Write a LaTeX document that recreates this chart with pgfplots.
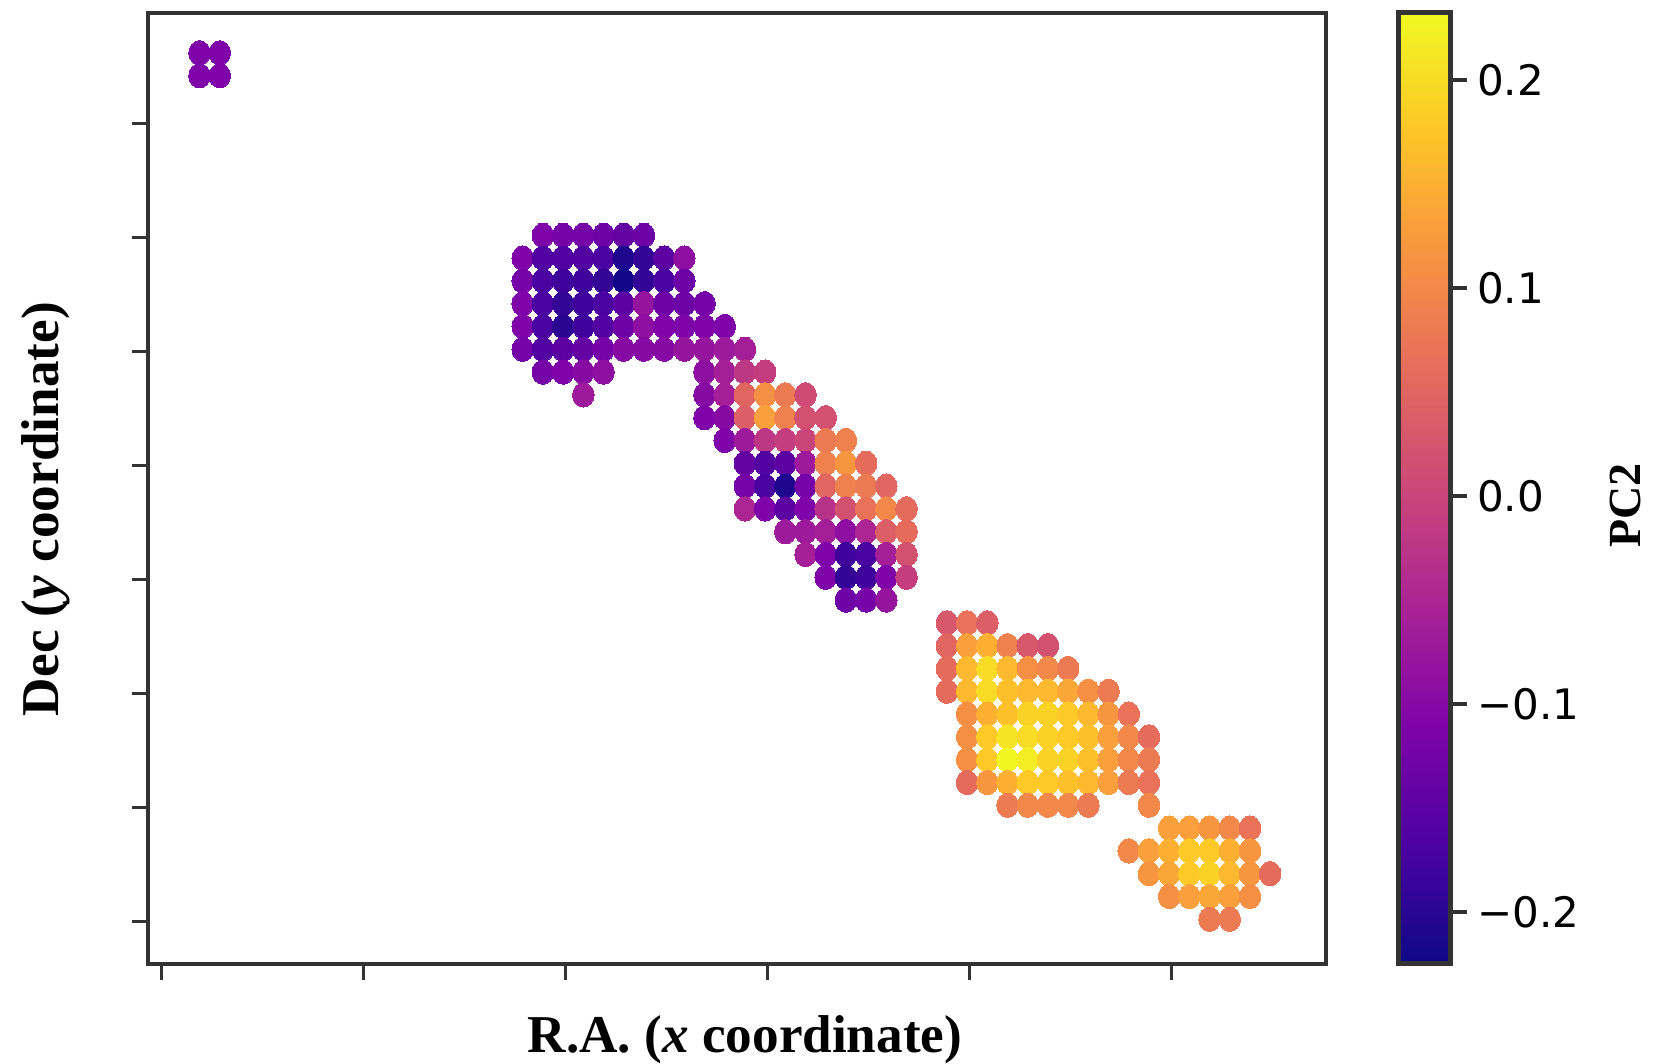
\documentclass[border=0pt]{standalone}
\usepackage{fontspec}
\setmainfont{Liberation Serif}
\newfontfamily\dejavu{DejaVu Sans}
\usepackage{pgfplots}
\usepackage{pgfplotstable}
\pgfplotsset{compat=1.18}

\definecolor{axgray}{HTML}{333333}

% matplotlib "plasma"
\pgfplotsset{colormap={plasma}{
  rgb255=(13,8,135) rgb255=(76,2,161) rgb255=(126,3,168)
  rgb255=(169,35,149) rgb255=(204,71,120) rgb255=(230,108,92)
  rgb255=(248,149,64) rgb255=(253,197,39) rgb255=(240,249,33)}}

% spaxel grid: x = column, y = -row, v = PC2
\pgfplotstableread{
x y v
0 0 -0.11
1 0 -0.11
0 -1 -0.11
1 -1 -0.11
17 -8 -0.11
18 -8 -0.12
19 -8 -0.12
20 -8 -0.13
21 -8 -0.14
22 -8 -0.13
16 -9 -0.11
17 -9 -0.16
18 -9 -0.16
19 -9 -0.16
20 -9 -0.17
21 -9 -0.21
22 -9 -0.19
23 -9 -0.15
24 -9 -0.09
16 -10 -0.12
17 -10 -0.17
18 -10 -0.18
19 -10 -0.18
20 -10 -0.19
21 -10 -0.22
22 -10 -0.19
23 -10 -0.17
24 -10 -0.13
16 -11 -0.11
17 -11 -0.17
18 -11 -0.19
19 -11 -0.18
20 -11 -0.17
21 -11 -0.15
22 -11 -0.08
23 -11 -0.13
24 -11 -0.13
25 -11 -0.12
16 -12 -0.11
17 -12 -0.17
18 -12 -0.20
19 -12 -0.18
20 -12 -0.16
21 -12 -0.13
22 -12 -0.09
23 -12 -0.11
24 -12 -0.11
25 -12 -0.11
26 -12 -0.11
16 -13 -0.12
17 -13 -0.16
18 -13 -0.15
19 -13 -0.14
20 -13 -0.12
21 -13 -0.10
22 -13 -0.10
23 -13 -0.10
24 -13 -0.08
25 -13 -0.08
26 -13 -0.07
27 -13 -0.06
17 -14 -0.12
18 -14 -0.11
19 -14 -0.10
20 -14 -0.09
25 -14 -0.09
26 -14 -0.06
27 -14 -0.02
28 -14 -0.01
19 -15 -0.07
25 -15 -0.10
26 -15 -0.06
27 -15 0.05
28 -15 0.11
29 -15 0.08
30 -15 0.01
25 -16 -0.11
26 -16 -0.10
27 -16 0.04
28 -16 0.13
29 -16 0.09
30 -16 0.02
31 -16 0.02
26 -17 -0.11
27 -17 -0.07
28 -17 -0.02
29 -17 -0.01
30 -17 0.00
31 -17 0.08
32 -17 0.09
27 -18 -0.14
28 -18 -0.16
29 -18 -0.15
30 -18 -0.07
31 -18 0.09
32 -18 0.12
33 -18 0.06
27 -19 -0.12
28 -19 -0.17
29 -19 -0.21
30 -19 -0.12
31 -19 0.05
32 -19 0.09
33 -19 0.08
34 -19 0.05
27 -20 -0.05
28 -20 -0.11
29 -20 -0.15
30 -20 -0.11
31 -20 -0.03
32 -20 0.02
33 -20 0.07
34 -20 0.10
35 -20 0.06
29 -21 -0.07
30 -21 -0.07
31 -21 -0.06
32 -21 -0.09
33 -21 -0.05
34 -21 0.04
35 -21 0.06
30 -22 -0.06
31 -22 -0.11
32 -22 -0.18
33 -22 -0.17
34 -22 -0.06
35 -22 0.02
31 -23 -0.11
32 -23 -0.19
33 -23 -0.18
34 -23 -0.11
35 -23 -0.01
32 -24 -0.13
33 -24 -0.12
34 -24 -0.08
37 -25 0.03
38 -25 0.07
39 -25 0.04
37 -26 0.05
38 -26 0.13
39 -26 0.15
40 -26 0.09
41 -26 0.03
42 -26 0.02
37 -27 0.06
38 -27 0.16
39 -27 0.20
40 -27 0.16
41 -27 0.11
42 -27 0.10
43 -27 0.08
37 -28 0.06
38 -28 0.16
39 -28 0.20
40 -28 0.17
41 -28 0.16
42 -28 0.16
43 -28 0.14
44 -28 0.11
45 -28 0.08
38 -29 0.11
39 -29 0.15
40 -29 0.17
41 -29 0.19
42 -29 0.19
43 -29 0.18
44 -29 0.16
45 -29 0.12
46 -29 0.07
38 -30 0.11
39 -30 0.18
40 -30 0.21
41 -30 0.20
42 -30 0.19
43 -30 0.18
44 -30 0.17
45 -30 0.13
46 -30 0.10
47 -30 0.06
38 -31 0.11
39 -31 0.18
40 -31 0.23
41 -31 0.22
42 -31 0.19
43 -31 0.19
44 -31 0.17
45 -31 0.13
46 -31 0.10
47 -31 0.08
38 -32 0.06
39 -32 0.12
40 -32 0.15
41 -32 0.18
42 -32 0.18
43 -32 0.17
44 -32 0.16
45 -32 0.13
46 -32 0.08
47 -32 0.07
40 -33 0.08
41 -33 0.10
42 -33 0.10
43 -33 0.10
44 -33 0.08
47 -33 0.10
48 -34 0.13
49 -34 0.13
50 -34 0.12
51 -34 0.10
52 -34 0.07
46 -35 0.10
47 -35 0.13
48 -35 0.15
49 -35 0.18
50 -35 0.18
51 -35 0.15
52 -35 0.12
47 -36 0.12
48 -36 0.14
49 -36 0.18
50 -36 0.19
51 -36 0.16
52 -36 0.12
53 -36 0.06
48 -37 0.11
49 -37 0.13
50 -37 0.14
51 -37 0.13
52 -37 0.11
50 -38 0.08
51 -38 0.08
}\spaxels

\begin{document}
\begin{tikzpicture}
\begin{axis}[
    name=main,
    at={(0,0)}, anchor=south west,
    scale only axis,
    width=294.475pt, height=237.75pt,
    xmin=-2.56, xmax=55.75,
    ymin=-39.95, ymax=1.76,
    xtick={-1.87,8.13,18.13,28.13,38.13,48.13},
    ytick={-38.1,-33.1,-28.1,-23.1,-18.1,-13.1,-8.1,-3.1},
    xticklabels={}, yticklabels={},
    tick pos=left, tick align=outside,
    major tick length=4pt,
    tick style={line width=0.7pt, color=axgray},
    axis line style={line width=1.1pt, color=axgray},
    colormap name=plasma,
    point meta min=-0.225, point meta max=0.2325,
    xlabel={\fontsize{13.3}{16}\selectfont\bfseries R.A. (\textit{x} coordinate)},
    xlabel style={at={(axis description cs:0.507,-0.0938)}, anchor=base},
    ylabel={\fontsize{13.3}{16}\selectfont\bfseries Dec (\textit{y} coordinate)},
    ylabel style={at={(axis description cs:-0.0760,0.478)}, anchor=base},
    colorbar,
    colorbar shift/.style={xshift=18.15pt},
    colorbar style={
      at={(parent axis.north east)}, anchor=north west,
      scale only axis,
      width=12.925pt, height=237.75pt,
      ytick={-0.2,-0.1,0,0.1,0.2},
      yticklabels={−0.2,−0.1,0.0,0.1,0.2},
      yticklabel style={font=\dejavu\fontsize{10.5}{13}\selectfont, xshift=-1pt},
      ytick pos=right,
      tick align=outside,
      major tick length=4.25pt,
      ytick style={line width=1pt, color=axgray},
      axis line style={line width=1.25pt, color=axgray},
      ylabel={\fontsize{11.5}{14}\selectfont\bfseries PC2},
      ylabel style={at={(axis description cs:4.675,0.482)}, anchor=base},
    },
  ]
  \addplot[
    scatter, only marks, mark=*,
    mark size=2.7pt,
    mark options={yscale=1.13, line width=0pt},
    scatter src=explicit,
    scatter/use mapped color={draw=mapped color, fill=mapped color},
  ] table[x=x, y=y, meta=v] {\spaxels};
\end{axis}
\pgfresetboundingbox
\path (-36.95pt,-24.825pt) rectangle (376.8pt,240.925pt);
\end{tikzpicture}
\end{document}
